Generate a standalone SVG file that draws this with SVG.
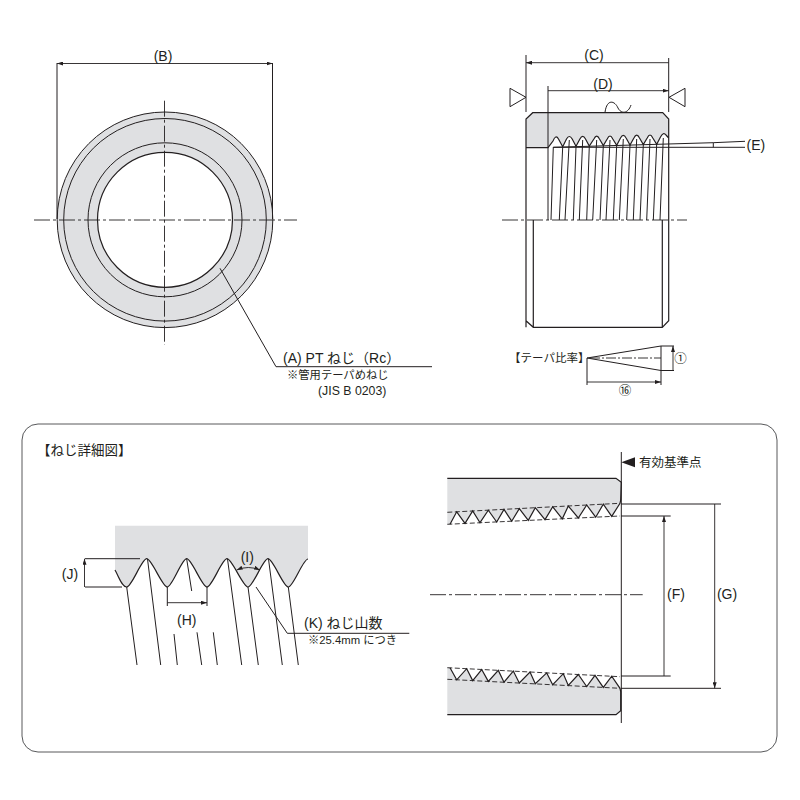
<svg xmlns="http://www.w3.org/2000/svg" width="800" height="800" viewBox="0 0 800 800">
<style>
text{font-family:"Liberation Sans","Noto Sans CJK JP",sans-serif;fill:#231f20;font-size:14px}
.s{font-size:11.300px}
.m{text-anchor:middle}
.l{fill:none;stroke:#231f20;stroke-width:1}
.t{fill:none;stroke:#231f20;stroke-width:1.2}
.c{fill:none;stroke:#231f20;stroke-width:.9;stroke-dasharray:16 3 3 3}
.d{fill:none;stroke:#231f20;stroke-width:.9;stroke-dasharray:5 2.5}
.a{fill:none;stroke:#231f20;stroke-width:.9;marker-start:url(#ar);marker-end:url(#ar)}
.g{fill:#dfe0e2;stroke:none}
</style>
<defs>
<marker id="ar" viewBox="0 0 6 4" refX="6" refY="2" markerWidth="6" markerHeight="4" markerUnits="userSpaceOnUse" orient="auto-start-reverse"><path d="M0 0L6 2L0 4Z" fill="#231f20"/></marker>
</defs>
<rect id="panel" x="22" y="424" width="755" height="328" rx="16" fill="none" stroke="#58595b" stroke-width="1"/>
<g id="front-view">
<circle cx="165" cy="219.800" r="107.800" fill="#dfe0e2" stroke="#231f20" stroke-width="1"/>
<circle cx="165" cy="219.800" r="101.300" fill="none" stroke="#231f20" stroke-width="1"/>
<circle cx="165" cy="219.800" r="77" fill="none" stroke="#231f20" stroke-width="1"/>
<circle cx="165" cy="219.800" r="67.500" fill="#fff" stroke="#231f20" stroke-width="1.200"/>
<path class="c" d="M34 220H297M164.500 100.700V345"/>
<path class="l" d="M57 63V219M272.500 63V219"/>
<path class="a" d="M57 63.500H272.500"/>
<text class="m" x="163" y="61">(B)</text>
</g>
<g id="label-a">
<path class="l" d="M220 268.300L276 366.700H432"/>
<text x="283" y="362.500">(A) PT ねじ（Rc）</text>
<text class="s" x="287" y="379">※管用テーパめねじ</text>
<text x="318" y="395" style="font-size:12.300px">(JIS B 0203)</text>
</g>
<g id="side-view">
<path class="g" d="M532.700 112.700H662.700L668.700 119V138L666 135Q663.300 131.500 660.500 137L656.700 144.300L652.800 138Q650 132 647.200 138L643.300 144.600L639.500 138Q636.700 132.300 633.900 138L630 145L626.100 138Q623.300 132.600 620.500 138L616.700 145.300L612.800 139Q610 133 607.200 139L603.300 145.600L599.500 139Q596.700 133.300 593.900 139L589.300 146L585.500 139Q582.700 133.600 579.900 139L576 146.300L572.200 139Q569.300 134 566.500 139L562.700 146.700L558.500 139Q555.700 134 553 141L548 147.700H526V119Z"/>
<path class="t" d="M526 147.700H548L553 141Q555.700 134 558.500 139L562.700 146.700L566.500 139Q569.300 134 572.200 139L576 146.300L579.900 139Q582.700 133.600 585.500 139L589.300 146L593.900 139Q596.700 133.300 599.500 139L603.300 145.600L607.200 139Q610 133 612.800 139L616.700 145.300L620.500 138Q623.300 132.600 626.100 138L630 145L633.900 138Q636.700 132.300 639.500 138L643.300 144.600L647.200 138Q650 132 652.800 138L656.700 144.300L660.500 137Q663.300 131.500 666 135L668.700 138"/>
<path class="t" d="M526 327.300V119L532.700 112.700H662.700L668.700 119V320.700L662.300 327.300H533.300L526 320.700M533.300 220V327.300M662.300 220V327.300"/>
<path class="l" d="M526 55V112M668.700 58V112M548 86V220M553.300 147L551 220M562.700 147L559.300 220M569.300 140L565 220M576 147L573.300 220M582.700 140L579.300 220M589.300 146L586.700 220M596.700 140L592.700 220M603.300 146L600 220M610 140L606 220M616.700 145L613.300 220M623.300 139L619.300 220M630 145L626.700 220M636.700 139L633.300 220M643.300 145L640 220M650 139L646.700 220M656.700 144L653.300 220M663.300 138L660 220"/>
<path class="c" d="M502 220H687"/>
<path class="a" d="M526 62.700H668.700M548 90.700H668.700"/>
<path class="l" d="M510 88.300L526 97.300L510 106.700ZM685 88.300L669 97.300L685 106.700ZM605 112.300C607 98 615 101 618 108C621 114 628 114 631 105"/>
<path class="l" d="M553.300 147.300L713.300 142.700L745 141.300M553.300 147.300H745M713.300 142.700V147.300"/>
<text class="m" x="594" y="60">(C)</text>
<text class="m" x="603" y="88.500">(D)</text>
<text x="746.500" y="150">(E)</text>
</g>
<g id="taper-ratio">
<path class="l" d="M587 358L661 346V370.500ZM587 358V385M661 370.500V385M661 346H674M661 370.500H674"/>
<path class="c" d="M590 358H661" style="stroke-dasharray:10 2 2 2"/>
<path class="a" d="M673 346V370.500M587 382H661"/>
<text x="509" y="362" style="font-size:11.500px">【テーパ比率】</text>
<text class="m" x="680.500" y="362.500" style="font-size:12.500px">①</text>
<text class="m" x="625" y="395" style="font-size:12.500px">⑯</text>
</g>
<text id="detail-title" x="37" y="455" style="font-size:13.500px">【ねじ詳細図】</text>
<g id="thread-detail">
<path class="g" d="M115 525.700H308V559C303 559 293.300 587 288.300 587C283.300 587 273 558.700 268 558.700C263 558.700 253 587 248 587C243 587 232 558.700 227 558.700C222 558.700 212 587 207 587C202 587 191.700 558.700 186.700 558.700C181.700 558.700 172.300 587 167.300 587C162.300 587 151.700 558.700 146.700 558.700C141.700 558.700 131.700 587 126.700 587C122 587 119 577 115 570Z"/>
<path class="t" d="M115 570C119 577 122 587 126.700 587C131.700 587 141.700 558.700 146.700 558.700C151.700 558.700 162.300 587 167.300 587C172.300 587 181.700 558.700 186.700 558.700C191.700 558.700 202 587 207 587C212 587 222 558.700 227 558.700C232 558.700 243 587 248 587C253 587 263 558.700 268 558.700C273 558.700 283.300 587 288.300 587C293.300 587 303 559 308 559"/>
<path class="l" d="M126.700 587L137 665M147.500 559L160.700 665M174 634L177.300 665M186.700 559L191.700 591M197 632.300L201.700 665M213.300 632.300L217.300 665M227.500 559L241.700 665M248 587L258.300 665M268.500 559L282.300 665M288.300 587L298.300 665"/>
<path class="l" d="M85 558.700H140M85 587H122M167.300 587V606M207 587V606"/>
<path class="a" d="M84.500 558.700V587M167.300 602.700H207"/>
<path class="a" d="M236.700 570Q248.300 565 260 570"/>
<path class="l" d="M256 587L287.300 633.300H409.300"/>
<text class="m" x="70" y="579">(J)</text>
<text class="m" x="186.700" y="625">(H)</text>
<text class="m" x="247.300" y="562">(I)</text>
<text x="304" y="628">(K) ねじ山数</text>
<text class="s" x="308" y="644">※25.4mm につき</text>
</g>
<g id="section-detail">
<path class="g" d="M447.300 478.300H616L621.300 482.300L620.700 500L620 503.300L611.700 516.400L603.300 504.200L595.700 517.200L586.700 505L578.300 518L568.300 506L562.300 518.800L552.700 506.800L545 519.600L535.300 507.700L528.300 520.400L519.300 508.600L511.700 521.200L504 509.400L496.700 522L488.300 510.200L480 522.700L472.700 511L465 523.400L456.700 511.800L450 524.200H447.300Z"/>
<path class="g" d="M447.300 667.700H450L456.700 679.800L466.700 668.700L472.700 680.600L481.700 669.500L488.300 681.400L498.300 670.400L504 682.200L513.300 671.100L519.300 683L530 672L535.300 683.800L546.700 672.900L552.700 684.700L563.300 673.700L568.300 685.500L578.300 674.500L586.700 686.500L595 675.400L603.300 687.400L611.700 676.200L620 688.300L620.700 691.700V710.700L616 714.700H447.300Z"/>
<path class="t" d="M447.300 478.300H616L621.300 482.300L620.700 500L620 503.300L611.700 516.400L603.300 504.200L595.700 517.200L586.700 505L578.300 518L568.300 506L562.300 518.800L552.700 506.800L545 519.600L535.300 507.700L528.300 520.400L519.300 508.600L511.700 521.200L504 509.400L496.700 522L488.300 510.200L480 522.700L472.700 511L465 523.400L456.700 511.800L450 524.200"/>
<path class="t" d="M447.300 714.700H616L620.700 710.700V691.700L620 688.300L611.700 676.200L603.300 687.400L595 675.400L586.700 686.500L578.300 674.500L568.300 685.500L563.300 673.700L552.700 684.700L546.700 672.900L535.300 683.800L530 672L519.300 683L513.300 671.100L504 682.200L498.300 670.400L488.300 681.400L481.700 669.500L472.700 680.600L466.700 668.700L456.700 679.800L450 667.700"/>
<path class="d" d="M447.300 512.300L620 503.300M447.300 524.300L620 516M447.300 667.700L620 676.700M447.300 679.300L620 688.300"/>
<path class="l" d="M621.300 452V723M621 504H721M621 516H670.700M621 676H670.700M621 688.300H721"/>
<path d="M621.300 462.300L635 457.300V467.300Z" fill="#231f20"/>
<path class="a" d="M664 516V676M714.700 504V688.300"/>
<path class="c" d="M430 594.700H642.700"/>
<text x="639" y="467" style="font-size:12.500px">有効基準点</text>
<text class="m" x="676" y="599">(F)</text>
<text class="m" x="727" y="599">(G)</text>
</g>
</svg>
